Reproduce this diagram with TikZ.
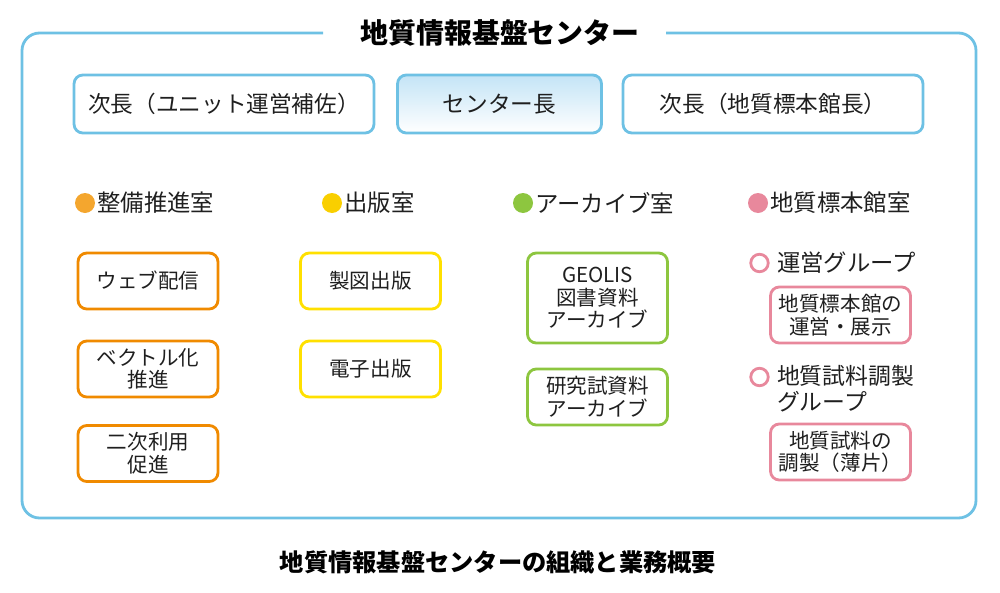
\documentclass[tikz,border=0pt]{standalone}
\usepackage{fontspec}
\setmainfont{Noto Sans CJK JP}
\usetikzlibrary{positioning}
\definecolor{frameblue}{HTML}{6EC1E4}
\definecolor{skyfill}{HTML}{C4E4F6}
\definecolor{orangebox}{HTML}{F08A00}
\definecolor{orangedot}{HTML}{F4A62E}
\definecolor{yellowbox}{HTML}{FFE000}
\definecolor{yellowdot}{HTML}{F9CF00}
\definecolor{greenbox}{HTML}{8DC63F}
\definecolor{pinkbox}{HTML}{E8889C}
\newcommand{\headfont}{\fontsize{13.3}{14}\selectfont}

\begin{document}
\begin{tikzpicture}[x=0.02cm,y=-0.02cm,
    box/.style={draw, rounded corners=5pt, line width=1.6pt, align=center,
        text=black!88, minimum width=2.8cm, minimum height=1.12cm,
        inner sep=0pt, font=\fontsize{11.7}{12.9}\selectfont},
    topbox/.style={box, draw=frameblue, minimum width=6cm,
        minimum height=1.16cm, font=\fontsize{12.9}{14}\selectfont},
    dot/.style={circle, fill=#1, minimum size=0.4cm, inner sep=0pt},
    ring/.style={circle, draw=pinkbox, line width=1.6pt,
        minimum size=0.35cm, inner sep=0pt},
    head/.style={inner sep=0pt, text=black!88, font=\headfont}]
    \useasboundingbox (0,0) rectangle (1000,592);

    \node[font=\fontsize{15.9}{17}\selectfont\bfseries] (title) at (500,33)
        {地質情報基盤センター};
    \draw[frameblue, line width=1.6pt, rounded corners=10pt]
        (323,33) -- (22,33) -- (22,518) -- (976,518) -- (976,33) -- (666,33);

    \node[topbox] (sub1) at (224,104) {次長（ユニット運営補佐）};
    \node[topbox, minimum width=4.08cm, top color=skyfill, bottom color=white]
        (chief) at (499.5,104) {センター長};
    \node[topbox] (sub2) at (773,104) {次長（地質標本館長）};

    % rooms
    \node[dot=orangedot] (d1) at (85,203) {};
    \node[head, right=1pt of d1] (r1) {整備推進室};
    \node[dot=yellowdot] (d2) at (332,203) {};
    \node[head, right=1pt of d2] (r2) {出版室};
    \node[dot=greenbox] (d3) at (523,203) {};
    \node[head, right=1pt of d3] (r3) {アーカイブ室};
    \node[dot=pinkbox] (d4) at (758,203) {};
    \node[head, right=1pt of d4] (r4) {地質標本館室};

    \node[box, draw=orangebox] (o1) at (148,281) {ウェブ配信};
    \node[box, draw=orangebox] (o2) at (148,369) {ベクトル化\\推進};
    \node[box, draw=orangebox] (o3) at (148,453.5) {二次利用\\促進};

    \node[box, draw=yellowbox] (y1) at (370.5,281) {製図出版};
    \node[box, draw=yellowbox] (y2) at (370.5,369) {電子出版};

    \node[box, draw=greenbox, minimum height=1.8cm] (g1) at (597.5,298)
        {GEOLIS\\図書資料\\アーカイブ};
    \node[box, draw=greenbox] (g2) at (597.5,397) {研究試資料\\アーカイブ};

    \node[ring] (c1) at (759.5,263) {};
    \node[head, right=4pt of c1] (grp1) {運営グループ};
    \node[box, draw=pinkbox] (p1) at (840.5,315) {地質標本館の\\運営・展示};
    \node[ring] (c2) at (759.5,377) {};
    \node[head, anchor=north west, align=left, font=\fontsize{13}{14.7}\selectfont]
        (grp2) at ([xshift=4pt]c2.east |- 0,365) {地質試料調製\\グループ};
    \node[box, draw=pinkbox] (p2) at (840.5,452) {地質試料の\\調製（薄片）};

    \node[font=\fontsize{13.8}{15}\selectfont\bfseries] (caption) at (498,562)
        {地質情報基盤センターの組織と業務概要};
\end{tikzpicture}
\end{document}
